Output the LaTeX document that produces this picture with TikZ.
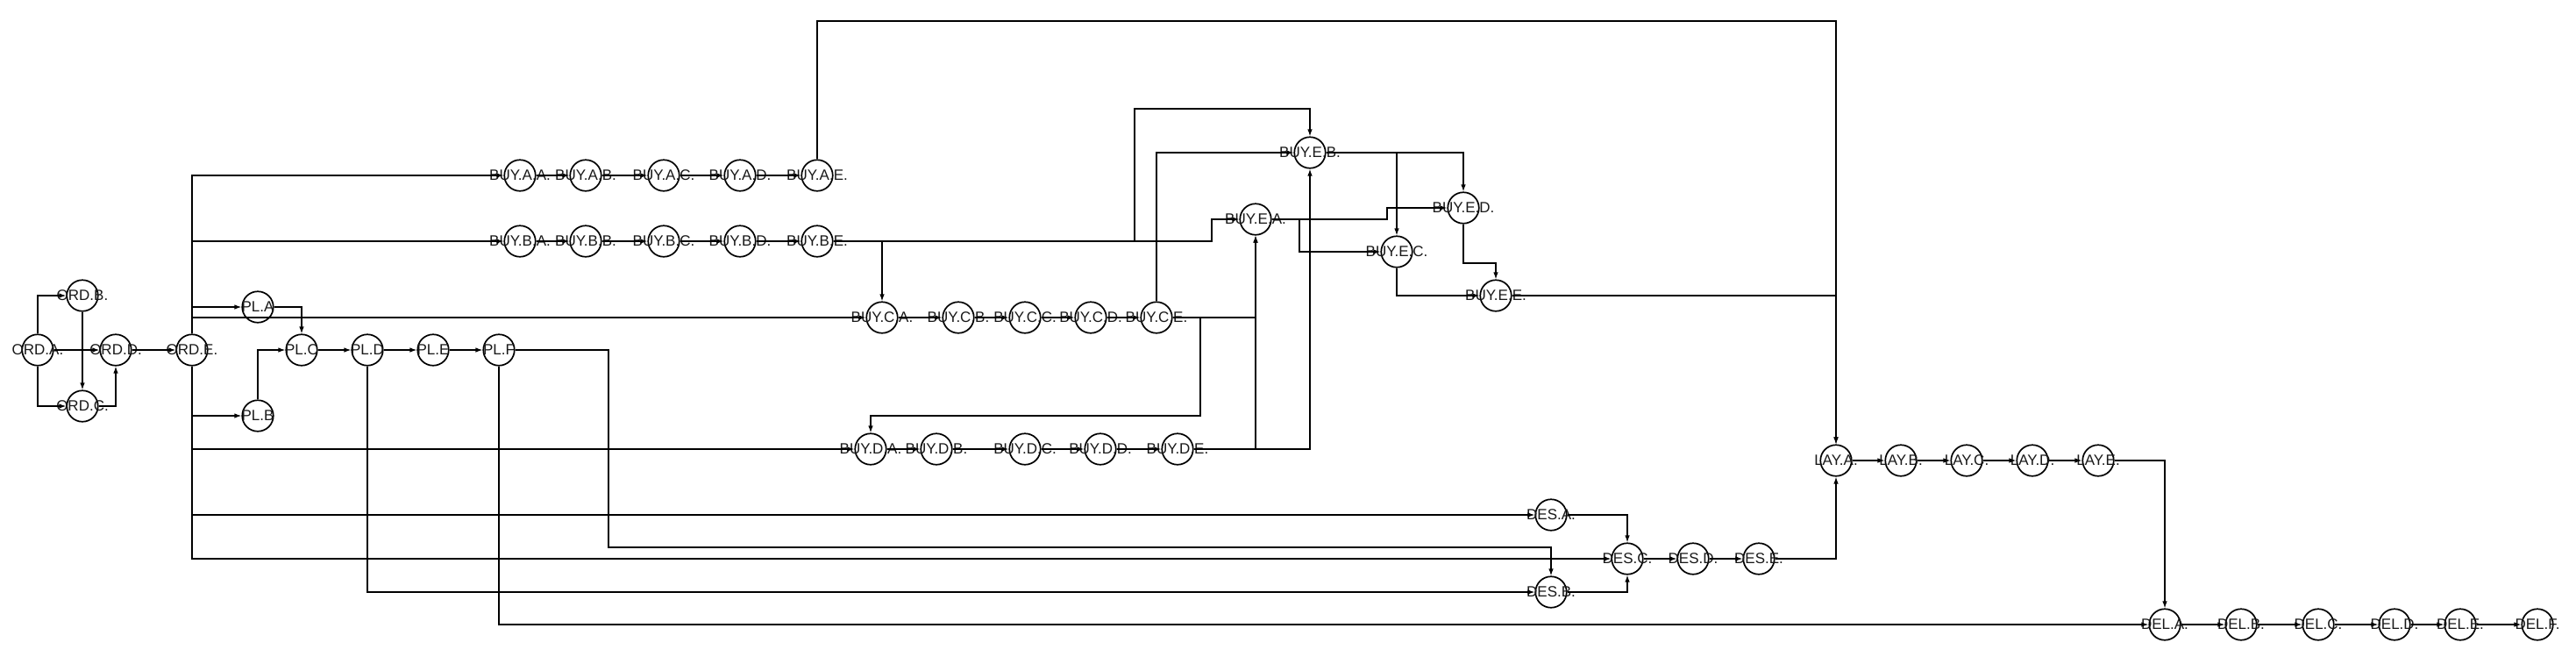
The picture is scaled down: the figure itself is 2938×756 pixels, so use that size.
\documentclass[tikz,border=0pt]{standalone}
\usepackage{fontspec}
\setmainfont{Liberation Sans}
\usetikzlibrary{arrows.meta}
\newcommand\mylab[1]{\makebox[0pt]{#1}}
\begin{document}
\begin{tikzpicture}[x=1pt,y=-1pt,
  st/.style={circle, draw=black, line width=1.7pt, minimum size=35.5pt, inner sep=0pt,
    font=\fontsize{17}{18}\selectfont, text=black!90},
  e/.style={draw=black, line width=1.2pt, -{Latex[length=8pt,width=5.5pt]}},
  ln/.style={draw=black, line width=1.2pt}]
\useasboundingbox (0,0) rectangle (2938,756);
% ORD
\node[st] (o1) at (43,399) {\mylab{ORD.A.}};
\node[st] (o2) at (94,337) {\mylab{ORD.B.}};
\node[st] (o3) at (94,463) {\mylab{ORD.C.}};
\node[st] (o4) at (132,399) {\mylab{ORD.D.}};
\node[st] (o5) at (219,399) {\mylab{ORD.E.}};
% PL
\node[st] (p1) at (294,350) {\mylab{PL.A}};
\node[st] (p2) at (294,474) {\mylab{PL.B}};
\node[st] (p3) at (344,399) {\mylab{PL.C}};
\node[st] (p4) at (419,399) {\mylab{PL.D}};
\node[st] (p5) at (494,399) {\mylab{PL.E}};
\node[st] (p6) at (569,399) {\mylab{PL.F}};
% BUY.A
\node[st] (bAA) at (593,200) {\mylab{BUY.A.A.}};
\node[st] (bAB) at (668,200) {\mylab{BUY.A.B.}};
\node[st] (bAC) at (757,200) {\mylab{BUY.A.C.}};
\node[st] (bAD) at (844,200) {\mylab{BUY.A.D.}};
\node[st] (bAE) at (932,200) {\mylab{BUY.A.E.}};
% BUY.B
\node[st] (bBA) at (593,275) {\mylab{BUY.B.A.}};
\node[st] (bBB) at (668,275) {\mylab{BUY.B.B.}};
\node[st] (bBC) at (757,275) {\mylab{BUY.B.C.}};
\node[st] (bBD) at (844,275) {\mylab{BUY.B.D.}};
\node[st] (bBE) at (932,275) {\mylab{BUY.B.E.}};
% BUY.C
\node[st] (bCA) at (1006,362) {\mylab{BUY.C.A.}};
\node[st] (bCB) at (1093,362) {\mylab{BUY.C.B.}};
\node[st] (bCC) at (1169,362) {\mylab{BUY.C.C.}};
\node[st] (bCD) at (1244,362) {\mylab{BUY.C.D.}};
\node[st] (bCE) at (1319,362) {\mylab{BUY.C.E.}};
% BUY.D
\node[st] (bDA) at (993,512) {\mylab{BUY.D.A.}};
\node[st] (bDB) at (1068,512) {\mylab{BUY.D.B.}};
\node[st] (bDC) at (1169,512) {\mylab{BUY.D.C.}};
\node[st] (bDD) at (1255,512) {\mylab{BUY.D.D.}};
\node[st] (bDE) at (1343,512) {\mylab{BUY.D.E.}};
% BUY.E
\node[st] (bEA) at (1432,250) {\mylab{BUY.E.A.}};
\node[st] (bEB) at (1494,174) {\mylab{BUY.E.B.}};
\node[st] (bEC) at (1593,287) {\mylab{BUY.E.C.}};
\node[st] (bED) at (1669,237) {\mylab{BUY.E.D.}};
\node[st] (bEE) at (1706,337) {\mylab{BUY.E.E.}};
% DES
\node[st] (dA) at (1769,587) {\mylab{DES.A.}};
\node[st] (dB) at (1769,675) {\mylab{DES.B.}};
\node[st] (dC) at (1856,637) {\mylab{DES.C.}};
\node[st] (dD) at (1931,637) {\mylab{DES.D.}};
\node[st] (dE) at (2006,637) {\mylab{DES.E.}};
% LAY
\node[st] (yA) at (2094,525) {\mylab{LAY.A.}};
\node[st] (yB) at (2168,525) {\mylab{LAY.B.}};
\node[st] (yC) at (2243,525) {\mylab{LAY.C.}};
\node[st] (yD) at (2318,525) {\mylab{LAY.D.}};
\node[st] (yE) at (2393,525) {\mylab{LAY.E.}};
% DEL
\node[st] (lA) at (2469,712) {\mylab{DEL.A.}};
\node[st] (lB) at (2556,712) {\mylab{DEL.B.}};
\node[st] (lC) at (2644,712) {\mylab{DEL.C.}};
\node[st] (lD) at (2731,712) {\mylab{DEL.D.}};
\node[st] (lE) at (2806,712) {\mylab{DEL.E.}};
\node[st] (lF) at (2894,712) {\mylab{DEL.F.}};
% bend points
\coordinate (c1) at (694,624);
\coordinate (c2) at (1294,124);
\coordinate (c3) at (1382,250);
\coordinate (c4) at (1369,474);
\coordinate (c5) at (1582,237);
\coordinate (c6) at (1482,287);
\coordinate (c7) at (1706,300);
\coordinate (c8) at (2094,24);
% ORD edges
\draw[e] (o1.north) |- (o2.west);
\draw[e] (o1.south) |- (o3.west);
\draw[e] (o1.east) -- (o4.west);
\draw[e] (o2.south) -- (o3.north);
\draw[e] (o3.east) -| (o4.south);
\draw[e] (o4.east) -- (o5.west);
% from ORD.E
\draw[e] (o5.north) |- (bAA.west);
\draw[e] (o5.north) |- (bBA.west);
\draw[e] (o5.north) |- (p1.west);
\draw[e] (o5.north) |- (bCA.west);
\draw[e] (o5.south) |- (p2.west);
\draw[e] (o5.south) |- (bDA.west);
\draw[e] (o5.south) |- (dA.west);
\draw[e] (o5.south) |- (dC.west);
% PL
\draw[e] (p1.east) -| (p3.north);
\draw[e] (p2.north) |- (p3.west);
\draw[e] (p3.east) -- (p4.west);
\draw[e] (p4.east) -- (p5.west);
\draw[e] (p5.east) -- (p6.west);
\draw[e] (p4.south) |- (dB.west);
\draw[e] (p6.south) |- (lA.west);
\draw[e] (p6.east) -| (c1) -| (dB.north);
% BUY chains
\draw[e] (bAA.east) -- (bAB.west);
\draw[e] (bAB.east) -- (bAC.west);
\draw[e] (bAC.east) -- (bAD.west);
\draw[e] (bAD.east) -- (bAE.west);
\draw[e] (bBA.east) -- (bBB.west);
\draw[e] (bBB.east) -- (bBC.west);
\draw[e] (bBC.east) -- (bBD.west);
\draw[e] (bBD.east) -- (bBE.west);
\draw[e] (bCA.east) -- (bCB.west);
\draw[e] (bCB.east) -- (bCC.west);
\draw[e] (bCC.east) -- (bCD.west);
\draw[e] (bCD.east) -- (bCE.west);
\draw[e] (bDA.east) -- (bDB.west);
\draw[e] (bDB.east) -- (bDC.west);
\draw[e] (bDC.east) -- (bDD.west);
\draw[e] (bDD.east) -- (bDE.west);
% BUY cross links
\draw[e] (bAE.north) |- (c8) -- (yA.north);
\draw[e] (bBE.east) -| (bCA.north);
\draw[e] (bBE.east) -| (c2) -| (bEB.north);
\draw[e] (bBE.east) -| (c3) -- (bEA.west);
\draw[e] (bCE.north) |- (bEB.west);
\draw[e] (bCE.east) -| (bEA.south);
\draw[e] (bCE.east) -| (c4) -| (bDA.north);
\draw[e] (bDE.east) -| (bEA.south);
\draw[e] (bDE.east) -| (bEB.south);
\draw[e] (bEA.east) -| (c5) -- (bED.west);
\draw[e] (bEA.east) -| (c6) -- (bEC.west);
\draw[e] (bEB.east) -| (bEC.north);
\draw[e] (bEB.east) -| (bED.north);
\draw[e] (bEC.south) |- (bEE.west);
\draw[e] (bED.south) |- (c7) -- (bEE.north);
\draw[e] (bEE.east) -| (yA.north);
% DES
\draw[e] (dA.east) -| (dC.north);
\draw[e] (dB.east) -| (dC.south);
\draw[e] (dC.east) -- (dD.west);
\draw[e] (dD.east) -- (dE.west);
\draw[e] (dE.east) -| (yA.south);
% LAY
\draw[e] (yA.east) -- (yB.west);
\draw[e] (yB.east) -- (yC.west);
\draw[e] (yC.east) -- (yD.west);
\draw[e] (yD.east) -- (yE.west);
\draw[e] (yE.east) -| (lA.north);
% DEL
\draw[e] (lA.east) -- (lB.west);
\draw[e] (lB.east) -- (lC.west);
\draw[e] (lC.east) -- (lD.west);
\draw[e] (lD.east) -- (lE.west);
\draw[e] (lE.east) -- (lF.west);
\end{tikzpicture}
\end{document}
